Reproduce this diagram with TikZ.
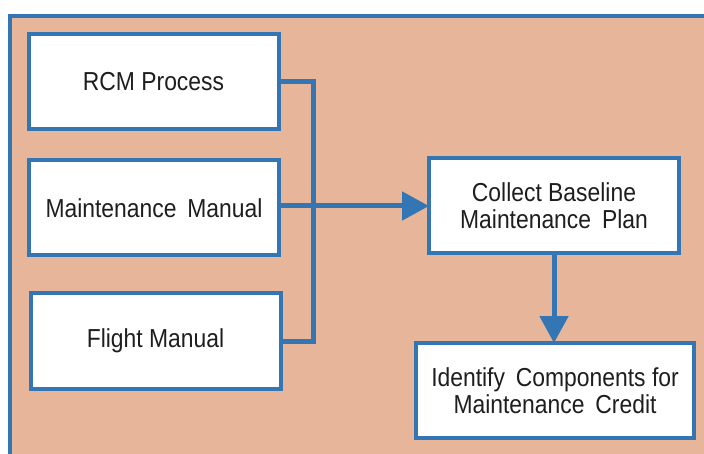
\documentclass[tikz,border=0pt]{standalone}
\usepackage{fontspec}
\setmainfont[FakeStretch=0.88]{Liberation Sans}
\usetikzlibrary{arrows.meta}
\definecolor{panel}{RGB}{231,181,153}
\definecolor{frameblue}{RGB}{52,117,180}
\definecolor{ink}{RGB}{30,30,30}
\newcommand\boxtextfont{\fontsize{26}{27}\selectfont}
% the wider word gap used in some labels
\newcommand\wsp{\hspace{0.42em}}
\tikzset{
  box/.style={draw=frameblue, line width=4pt, fill=white, text=ink,
    minimum width=250pt, minimum height=95pt, inner sep=0pt, outer sep=0pt,
    align=center, font=\boxtextfont},
  link/.style={draw=frameblue, line width=5pt},
  flow/.style={link, -{Triangle[length=27pt,width=28pt]}}
}
\begin{document}
\begin{tikzpicture}[x=1pt,y=-1pt]
  \useasboundingbox (0,0) rectangle (704,454);
  \fill[white] (0,0) rectangle (704,454);
  % panel with its frame, running off the right and bottom edges
  \begin{scope}
    \clip (0,0) rectangle (704,454);
    \draw[fill=panel, draw=frameblue, line width=4pt] (10,16) rectangle (720,470);
  \end{scope}

  \node[box] (rcm) at (153.5,82) {RCM Process};
  \node[box] (mm)  at (154,208) {Maintenance\wsp Manual};
  \node[box] (fm)  at (155.5,341) {Flight Manual};
  \node[box] (cb)  at (554,206) {Collect Baseline\\Maintenance\wsp Plan};
  \node[box, minimum width=278pt] (id) at (555,390.5) {Identify\wsp Components for\\Maintenance\wsp Credit};

  \coordinate (bus) at (313,0);
  \draw[link, line join=miter] (rcm.east) -- (rcm.east -| bus) -- (fm.east -| bus) -- (fm.east);
  \draw[flow] (mm.east |- cb.west) -- (cb.west);
  \draw[flow] (cb.south) -- (cb.south |- id.north);
\end{tikzpicture}
\end{document}
